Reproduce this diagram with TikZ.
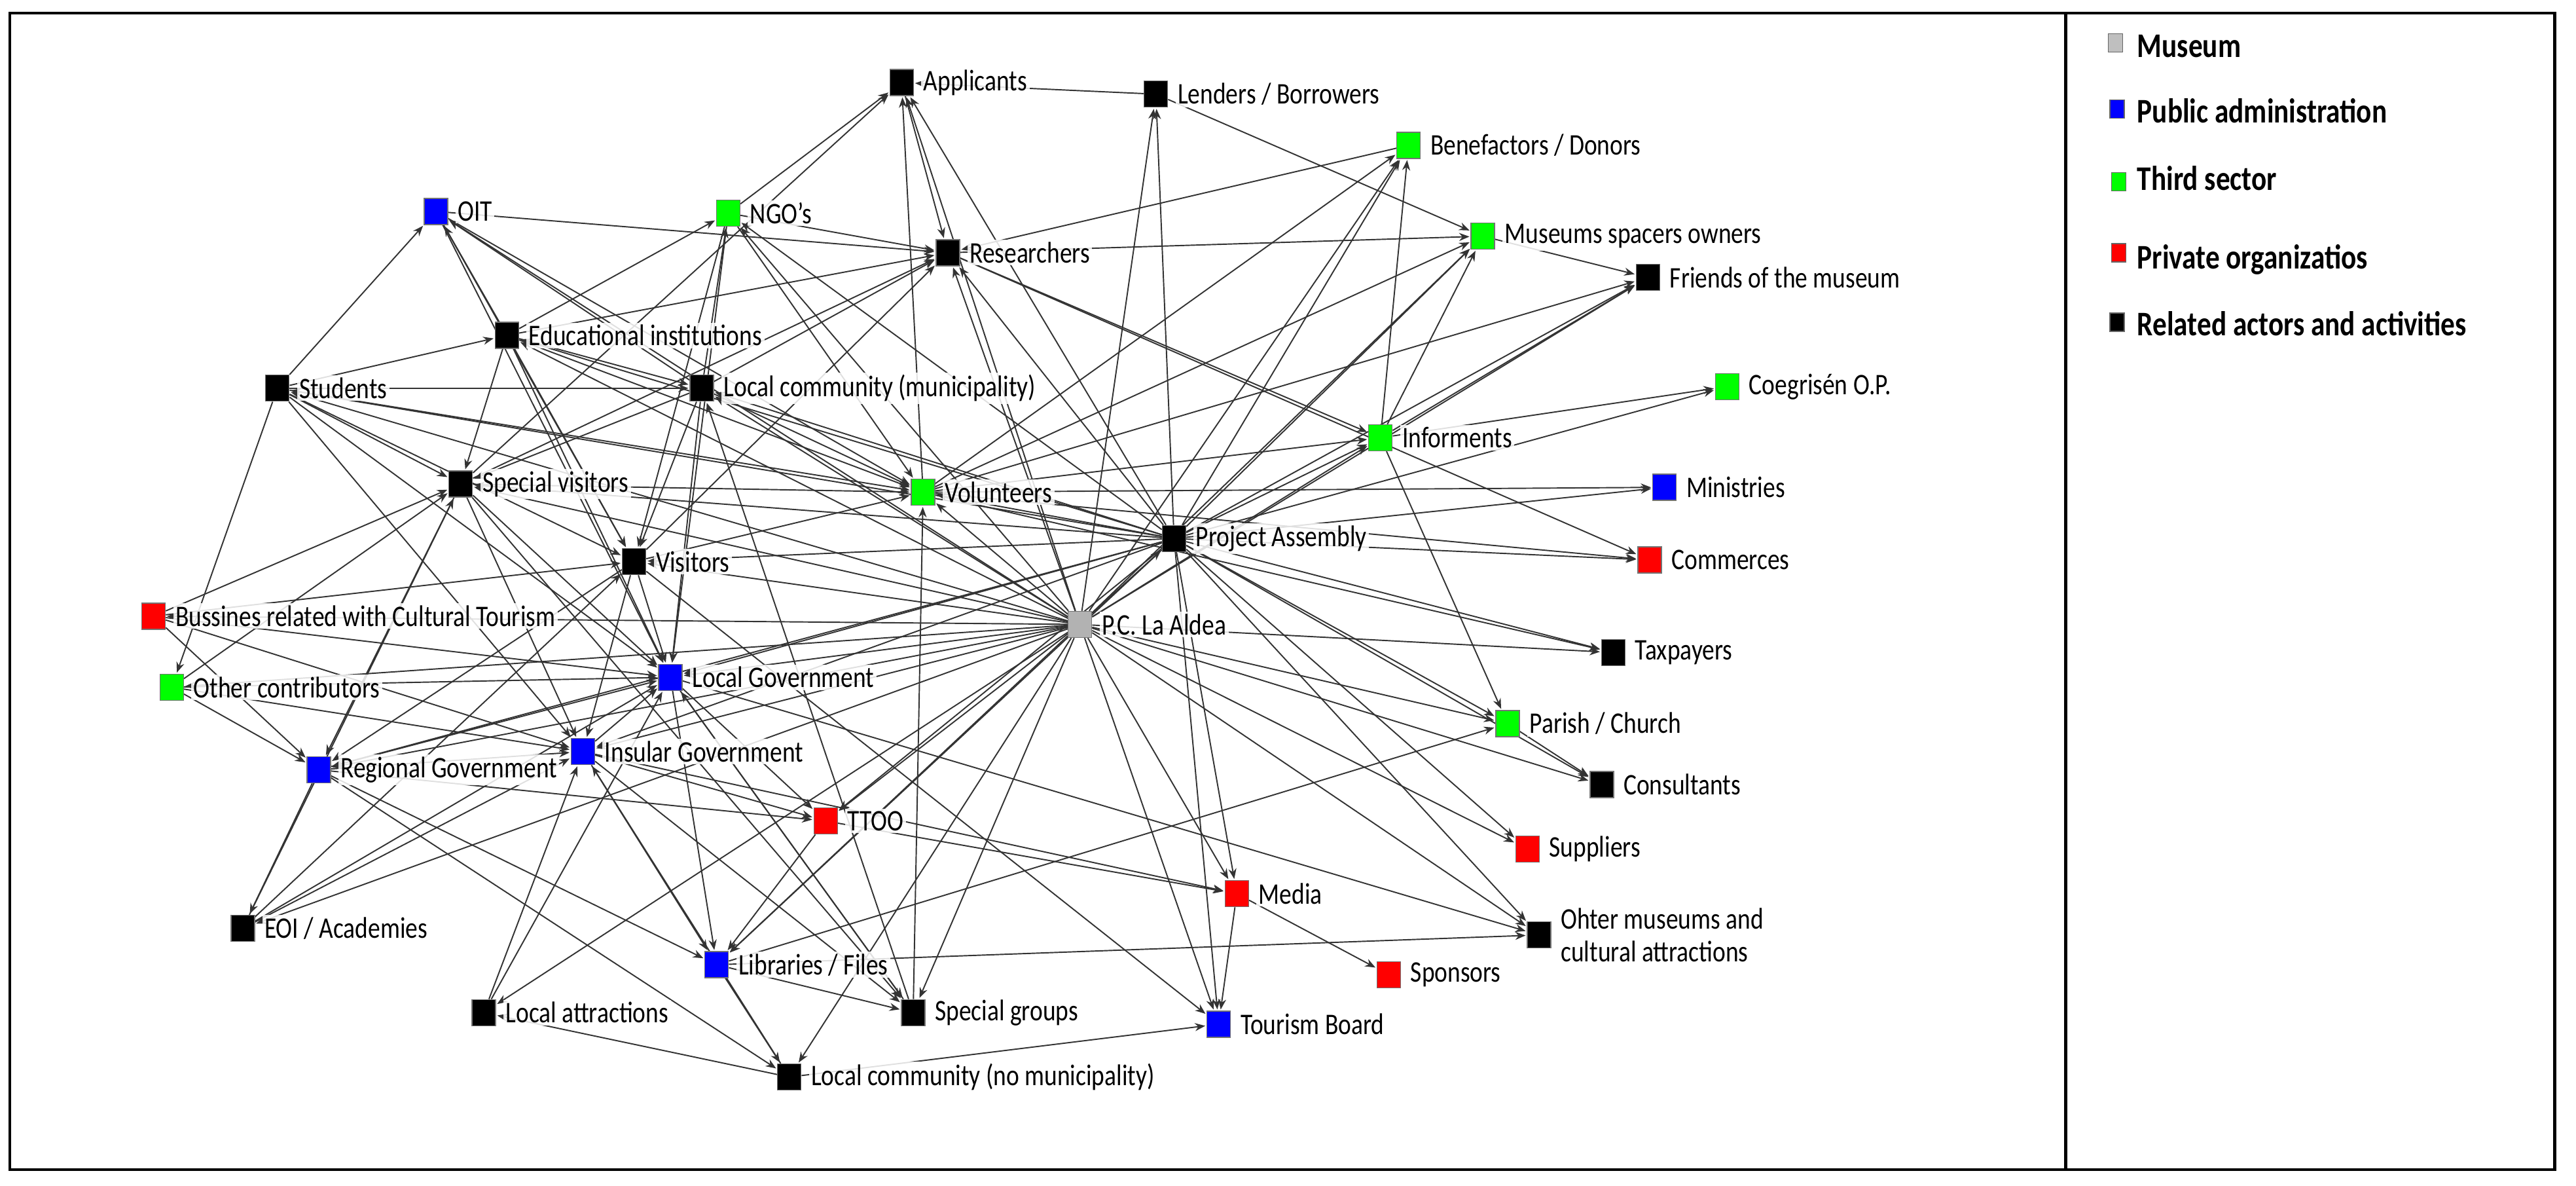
\documentclass[tikz,border=0pt]{standalone}
\usepackage{fontspec}
\setmainfont{Carlito}[FakeStretch=0.82]
\usetikzlibrary{arrows.meta,backgrounds}
\begin{document}
\begin{tikzpicture}[x=0.025224cm,y=-0.025224cm,
  nd/.style={rectangle,draw=black!55,line width=0.4pt,minimum width=0.36cm,minimum height=0.4cm,inner sep=0pt,
     label={[font=\fontsize{13}{14}\selectfont,inner sep=1pt,label distance=3pt,fill=white,fill opacity=0.85,text opacity=1]right:#1}},
  bk/.style={nd={#1},fill=black},
  bl/.style={nd={#1},fill=blue},
  gr/.style={nd={#1},fill=green},
  rd/.style={nd={#1},fill=red},
  gy/.style={nd={#1},fill=black!30},
  edge/.style={draw=black!80,line width=0.55pt,-{Stealth[length=4.5pt,width=3.5pt]},shorten >=0.5pt},
  leg/.style={font=\bfseries\fontsize{15}{17}\selectfont,anchor=west,inner sep=0pt},
  legsq/.style={rectangle,draw=black!60,minimum width=0.22cm,minimum height=0.28cm,inner sep=0pt}]
\useasboundingbox (0,0) rectangle (1560,717.6);
\draw[line width=1.3pt] (6,8) rectangle (1547,708);
\draw[line width=1.3pt] (1251,8) -- (1251,708);
% nodes
\node[bk={Applicants}] (app) at (546,50) {};
\node[bk={Lenders / Borrowers}] (lend) at (700,57) {};
\node[gr={Benefactors / Donors}] (ben) at (853,88) {};
\node[bl={OIT}] (oit) at (264,128) {};
\node[gr={NGO's}] (ngo) at (441,129) {};
\node[bk={Researchers}] (res) at (574,153) {};
\node[gr={Museums spacers owners}] (mus) at (898,143) {};
\node[bk={Friends of the museum}] (fri) at (998,168) {};
\node[bk={Educational institutions}] (edu) at (307,203) {};
\node[bk={Students}] (stu) at (168,235) {};
\node[bk={Local community (municipality)}] (lcm) at (425,235) {};
\node[gr={Coegrisén O.P.}] (coe) at (1046,234) {};
\node[gr={Informents}] (inf) at (836,265) {};
\node[bk={Special visitors}] (spv) at (279,293) {};
\node[gr={Volunteers}] (vol) at (559,298) {};
\node[bl={Ministries}] (min) at (1008,295) {};
\node[bk={Project Assembly}] (pa) at (711,326) {};
\node[bk={Visitors}] (vis) at (384,340) {};
\node[rd={Commerces}] (com) at (999,339) {};
\node[rd={Bussines related with Cultural Tourism}] (bus) at (93,373) {};
\node[gy={P.C. La Aldea}] (pc) at (654,378) {};
\node[bk={Taxpayers}] (tax) at (977,395) {};
\node[bl={Local Government}] (lg) at (406,410) {};
\node[gr={Other contributors}] (oc) at (104,416) {};
\node[gr={Parish / Church}] (par) at (913,438) {};
\node[bl={Insular Government}] (ig) at (353,455) {};
\node[bl={Regional Government}] (rg) at (193,466) {};
\node[bk={Consultants}] (con) at (970,475) {};
\node[rd={TTOO}] (tto) at (500,497) {};
\node[rd={Suppliers}] (sup) at (925,514) {};
\node[rd={Media}] (med) at (749,541) {};
\node[bk={EOI / Academies}] (eoi) at (147,562) {};
\node[bk={\shortstack[l]{Ohter museums and\\[2pt]cultural attractions}}] (oth) at (932,566) {};
\node[rd={Sponsors}] (spo) at (841,590) {};
\node[bl={Libraries / Files}] (lib) at (434,584) {};
\node[bk={Local attractions}] (la) at (293,613) {};
\node[bk={Special groups}] (sg) at (553,613) {};
\node[bl={Tourism Board}] (tb) at (738,620) {};
\node[bk={Local community (no municipality)}] (lcn) at (478,652) {};
% legend
\node[legsq,fill=black!25] (l1) at (1281,26) {};
\node[leg] (t1) at (1294,28) {Museum};
\node[legsq,fill=blue] (l2) at (1282,66) {};
\node[leg] (t2) at (1294,67) {Public administration};
\node[legsq,fill=green] (l3) at (1283,110) {};
\node[leg] (t3) at (1294,108) {Third sector};
\node[legsq,fill=red] (l4) at (1283,153) {};
\node[leg] (t4) at (1294,157) {Private organizatios};
\node[legsq,fill=black] (l5) at (1282,195) {};
\node[leg] (t5) at (1294,196) {Related actors and activities};
\begin{pgfonlayer}{background}
\foreach \a/\b in {pc/app,pc/lend,pc/ben,pc/ngo,pc/res,pc/mus,pc/fri,pc/edu,pc/stu,pc/lcm,pc/inf,pc/spv,pc/vol,pc/pa,pc/vis,pc/bus,pc/tax,pc/lg,pc/oc,pc/par,pc/ig,pc/rg,pc/con,pc/tto,pc/sup,pc/med,pc/eoi,pc/oth,pc/lib,pc/la,pc/sg,pc/tb,pc/lcn,pc/oit,
  pa/lend,pa/ben,pa/mus,pa/fri,pa/inf,pa/coe,pa/min,pa/com,pa/tax,pa/par,pa/con,pa/vol,pa/res,pa/lcm,pa/lg,pa/ig,pa/rg,pa/tto,pa/vis,pa/spv,pa/edu,pa/stu,pa/med,pa/tb,pa/lib,pa/oth,pa/sup,pa/app,pa/ngo,
  stu/lcm,stu/oit,stu/edu,stu/spv,stu/vis,stu/lg,stu/ig,stu/oc,stu/vol,edu/oit,edu/ngo,edu/res,edu/lcm,edu/vol,edu/spv,edu/vis,edu/lg,lcm/ngo,lcm/res,lcm/vol,lcm/oit,lcm/spv,lcm/vis,lcm/lg,oit/res,oit/vol,oit/vis,oit/lg,ngo/res,ngo/vol,ngo/lg,ngo/vis,ngo/app,
  spv/app,vol/app,app/res,ben/res,lend/mus,lend/app,res/mus,res/inf,mus/fri,inf/fri,inf/coe,inf/mus,inf/ben,inf/par,vol/inf,vol/fri,vol/mus,vol/ben,vol/com,vol/min,
  spv/lg,spv/ig,spv/rg,spv/vol,spv/res,vis/lg,vis/ig,vis/rg,vis/vol,vis/res,bus/lg,bus/ig,bus/spv,bus/vis,bus/rg,oc/lg,oc/rg,oc/ig,oc/spv,rg/eoi,rg/lib,rg/lcn,rg/ig,rg/lg,rg/tto,ig/lg,ig/tto,ig/lib,ig/sg,lg/tto,lg/lib,lg/sg,tto/lib,lib/lcn,la/ig,la/lg,lcn/tb,lcn/la,lcn/ig,med/tb,med/spo,par/con,eoi/lg,eoi/ig,eoi/vis,eoi/spv,lib/par,sg/vol,sg/lg,sg/lcm,lib/oth,ig/med,lg/oth,tto/med,vis/tb,spv/sg,lib/sg,res/com,vol/tax}
  \draw[edge] (\a) -- (\b);
\end{pgfonlayer}
\end{tikzpicture}
\end{document}
